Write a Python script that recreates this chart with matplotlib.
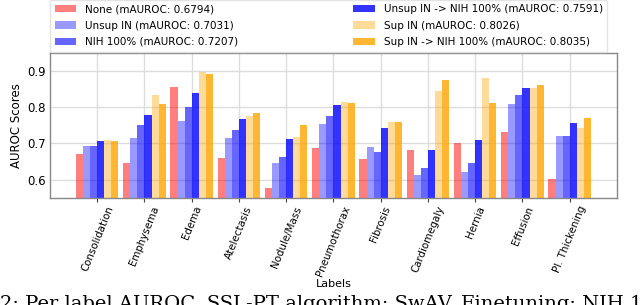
import numpy as np
import matplotlib
matplotlib.use("Agg")
import matplotlib.pyplot as plt

categories = ["Consolidation", "Emphysema", "Edema", "Atelectasis", "Nodule/Mass",
              "Pneumothorax", "Fibrosis", "Cardiomegaly", "Hernia", "Effusion",
              "Pl. Thickening"]

none_vals     = [0.672, 0.646, 0.854, 0.659, 0.578, 0.687, 0.657, 0.681, 0.702, 0.731, 0.602]
unsup_in      = [0.692, 0.715, 0.761, 0.714, 0.645, 0.753, 0.691, 0.612, 0.622, 0.808, 0.719]
nih100        = [0.693, 0.750, 0.800, 0.737, 0.662, 0.774, 0.676, 0.632, 0.645, 0.832, 0.719]
unsup_in_nih  = [0.707, 0.777, 0.839, 0.766, 0.713, 0.806, 0.743, 0.681, 0.708, 0.851, 0.755]
sup_in        = [0.709, 0.833, 0.895, 0.774, 0.718, 0.814, 0.760, 0.845, 0.880, 0.853, 0.742]
sup_in_nih    = [0.706, 0.808, 0.891, 0.784, 0.751, 0.812, 0.760, 0.875, 0.810, 0.860, 0.770]

series = [
    ("None (mAUROC: 0.6794)", none_vals, "red", 0.5),
    ("Unsup IN (mAUROC: 0.7031)", unsup_in, "blue", 0.4),
    ("NIH 100% (mAUROC: 0.7207)", nih100, "blue", 0.6),
    ("Unsup IN -> NIH 100% (mAUROC: 0.7591)", unsup_in_nih, "blue", 0.8),
    ("Sup IN (mAUROC: 0.8026)", sup_in, "orange", 0.4),
    ("Sup IN -> NIH 100% (mAUROC: 0.8035)", sup_in_nih, "orange", 0.8),
]

fig = plt.figure(figsize=(6.4, 3.05), dpi=100)
ax = fig.add_axes([0.078, 0.352, 0.886, 0.475])

x = np.arange(len(categories))
w = 0.15
ybase = 0.5
for i, (lab, vals, col, a) in enumerate(series):
    off = (i - 2.5) * w
    ax.bar(x + off, np.array(vals) - ybase, w, bottom=ybase, color=col, alpha=a,
           label=lab, zorder=2)

ax.set_xlim(-1, len(categories))
ax.set_ylim(0.551, 0.949)
ax.set_yticks([0.6, 0.7, 0.8, 0.9])
ax.set_xticks(x)
ax.set_xticklabels(categories, rotation=68, ha="center", fontsize=7.4)
ax.tick_params(axis="y", labelsize=8.5, length=0, pad=3)
ax.tick_params(axis="x", length=3, color="#444444", pad=2)
ax.grid(True, color="#dddddd", linewidth=1, zorder=0)
ax.set_axisbelow(True)
for s in ax.spines.values():
    s.set_color("#888888")
    s.set_linewidth(1)
ax.set_ylabel("AUROC Scores", fontsize=8.5, labelpad=3)
ax.set_xlabel("Labels", fontsize=8, labelpad=1)

leg = ax.legend(loc="lower left", bbox_to_anchor=(0.0, 1.008, 0.983, 0.34), mode="expand",
                ncol=2, fontsize=7.5, frameon=True, borderaxespad=0, labelspacing=0.6,
                handlelength=2.1, borderpad=0.45)
leg.get_frame().set_edgecolor("#dddddd")

fig.text(0.0, -0.014, "2: Per label AUROC. SSL-PT algorithm: SwAV. Finetuning: NIH 10% of",
         family="DejaVu Serif", fontsize=14, ha="left", va="baseline")

fig.savefig("out.png", dpi=100)
